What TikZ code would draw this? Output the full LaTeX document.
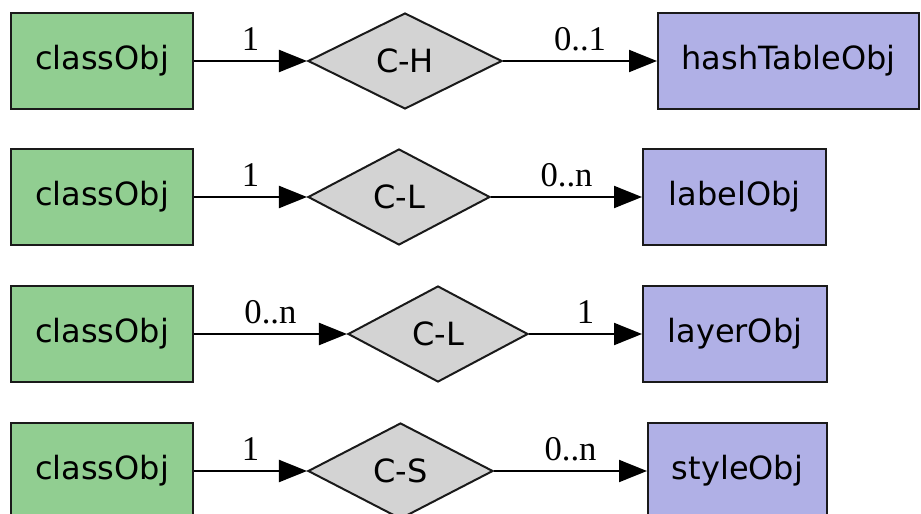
\documentclass[tikz,border=0pt]{standalone}
\usepackage{fontspec}
\setmainfont{DejaVu Sans}
\newfontfamily\labfont{Liberation Serif}
\usetikzlibrary{shapes.geometric,arrows.meta}
\definecolor{entgreen}{HTML}{91CE91}
\definecolor{entblue}{HTML}{B0B0E6}
\definecolor{relgray}{HTML}{D3D3D3}
\definecolor{edgec}{HTML}{1A1A1A}
\tikzset{
  ent/.style={draw=edgec, line width=1.5pt, rectangle, minimum height=72pt, inner sep=0pt, font=\fontsize{24}{28}\selectfont},
  src/.style={ent, fill=entgreen, minimum width=136.5pt},
  dst/.style={ent, fill=entblue},
  rel/.style={draw=edgec, line width=1.5pt, diamond, fill=relgray, minimum height=72pt, inner sep=0pt, font=\fontsize{24}{28}\selectfont},
  conn/.style={line width=1.5pt, draw=black, -{Triangle[length=21pt,width=16.5pt]}},
  card/.style={midway, anchor=base, yshift=8pt, inner sep=0pt, font=\labfont\fontsize{26}{29}\selectfont}
}
\begin{document}
\begin{tikzpicture}[x=0.75pt,y=-0.75pt]
\useasboundingbox (0,0) rectangle (921,514);
\fill[white] (0,0) rectangle (921,514);
% row 1
\node[src] (c1) at (102,61) {classObj};
\node[rel, minimum width=145.5pt] (r1) at (405,61) {C-H};
\node[dst, minimum width=195.75pt] (d1) at (788.5,61) {hashTableObj};
% row 2
\node[src] (c2) at (102,197) {classObj};
\node[rel, minimum width=136.5pt] (r2) at (399,197) {C-L};
\node[dst, minimum width=137.25pt] (d2) at (734.5,197) {labelObj};
% row 3
\node[src] (c3) at (102,334) {classObj};
\node[rel, minimum width=135pt] (r3) at (438,334) {C-L};
\node[dst, minimum width=138pt] (d3) at (735,334) {layerObj};
% row 4
\node[src] (c4) at (102,471) {classObj};
\node[rel, minimum width=138.75pt] (r4) at (400.5,471) {C-S};
\node[dst, minimum width=134.25pt] (d4) at (737.5,471) {styleObj};
% connectors
\draw[conn] (c1) -- node[card] {1} (r1);
\draw[conn] (r1) -- node[card] {0..1} (d1);
\draw[conn] (c2) -- node[card] {1} (r2);
\draw[conn] (r2) -- node[card] {0..n} (d2);
\draw[conn] (c3) -- node[card] {0..n} (r3);
\draw[conn] (r3) -- node[card] {1} (d3);
\draw[conn] (c4) -- node[card] {1} (r4);
\draw[conn] (r4) -- node[card] {0..n} (d4);
\end{tikzpicture}
\end{document}
